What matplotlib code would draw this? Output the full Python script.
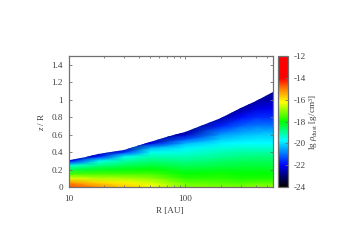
import numpy as np
import matplotlib
matplotlib.use("Agg")
import matplotlib.pyplot as plt
from matplotlib.colors import LinearSegmentedColormap
from matplotlib.patches import Polygon
from matplotlib.ticker import FixedLocator, FixedFormatter, NullFormatter

plt.rcParams['font.family'] = ['Liberation Serif', 'DejaVu Serif']
plt.rcParams['mathtext.fontset'] = 'custom'
plt.rcParams['mathtext.rm'] = 'Liberation Serif'
plt.rcParams['mathtext.it'] = 'Liberation Serif:italic'
plt.rcParams['axes.unicode_minus'] = False

R_au = [10.3, 18, 30, 50, 100, 200, 300, 400, 560]
z_over_r = [0, .05, .1, .15, .2, .25, .3, .35, .4, .45, .5, .55, .6, .7, .8, .9, 1.0, 1.1]
R_10 = [-14.6, -15.2, -16.4, -17.5, -18.5, -19.5, -22.0, -23.0, -23.0, -23.0, -23.0, -23.0, -23.0, -23.0, -23.0, -23.0, -23.0, -23.0]
R_18 = [-15.1, -15.8, -16.7, -17.5, -18.2, -18.9, -19.6, -21.8, -22.8, -23.0, -23.0, -23.0, -23.0, -23.0, -23.0, -23.0, -23.0, -23.0]
R_30 = [-15.7, -16.1, -16.8, -17.5, -18.1, -18.6, -19.1, -19.6, -21.6, -22.8, -23.0, -23.0, -23.0, -23.0, -23.0, -23.0, -23.0, -23.0]
R_50 = [-16.2, -16.5, -17.0, -17.5, -18.0, -18.4, -18.8, -19.2, -19.6, -20.4, -22.2, -22.8, -23.0, -23.0, -23.0, -23.0, -23.0, -23.0]
R_100 = [-17.0, -17.3, -17.7, -18.0, -18.3, -18.6, -18.9, -19.2, -19.5, -19.8, -20.3, -21.3, -22.4, -23.0, -23.0, -23.0, -23.0, -23.0]
R_200 = [-17.1, -17.4, -17.7, -17.9, -18.2, -18.5, -18.7, -19.0, -19.2, -19.5, -19.8, -20.2, -20.6, -21.7, -22.7, -23.0, -23.0, -23.0]
R_300 = [-17.1, -17.5, -17.8, -18.0, -18.2, -18.4, -18.6, -18.9, -19.1, -19.4, -19.7, -20.0, -20.3, -21.1, -21.9, -22.7, -23.0, -23.0]
R_400 = [-17.0, -17.4, -17.8, -18.0, -18.2, -18.4, -18.6, -18.8, -19.1, -19.4, -19.7, -19.9, -20.2, -20.9, -21.6, -22.2, -22.7, -23.0]
R_560 = [-16.9, -17.4, -17.8, -18.0, -18.2, -18.4, -18.6, -18.8, -19.1, -19.4, -19.7, -19.9, -20.1, -20.9, -21.6, -22.1, -22.5, -22.8]
surface_R = [10.3, 14, 18, 30, 50, 74, 100, 200, 300, 400, 560]
surface_z = [0.31, 0.345, 0.372, 0.423, 0.515, 0.58, 0.633, 0.785, 0.90, 0.985, 1.083]

cmap_levels = [-24, -23, -22, -19.7, -18, -16.2, -15, -14, -12]
cmap_colors = ['#000000', '#000070', '#0000ff', '#00ffff', '#00ff00', '#ffff00', '#ff8000', '#ff0000', '#ff0000']
x_major = [10, 100]
x_minor = [20, 30, 40, 50, 60, 70, 80, 90, 200, 300, 400, 500]
y_ticks = [0, 0.2, 0.4, 0.6, 0.8, 1, 1.2, 1.4]
y_labels = ['0', '0.2', '0.4', '0.6', '0.8', '1', '1.2', '1.4']
c_ticks = [-24, -22, -20, -18, -16, -14, -12]

W, H = 351, 248
GRAY = '#707070'
TXT = '#404040'
FS = 6.6

fig = plt.figure(figsize=(W / 100, H / 100), dpi=100)
ax = fig.add_axes([68.5 / W, 1 - 187 / H, 204.2 / W, 130.7 / H])
cax = fig.add_axes([277.7 / W, 1 - 187 / H, 10.6 / W, 130.7 / H])

span = cmap_levels[-1] - cmap_levels[0]
cmap = LinearSegmentedColormap.from_list(
    'disk', [((v - cmap_levels[0]) / span, c) for v, c in zip(cmap_levels, cmap_colors)], N=512)

field = np.array([R_10, R_18, R_30, R_50, R_100, R_200, R_300, R_400, R_560]).T
ax.set_xscale('log')
ax.set_xlim(10, 558)
ax.set_ylim(0, 1.496)
mesh = ax.pcolormesh(R_au, z_over_r, field, cmap=cmap, vmin=-24, vmax=-12,
                     shading='gouraud', rasterized=True)
outline = list(zip(surface_R, surface_z)) + [(surface_R[-1], 0), (surface_R[0], 0)]
clip = Polygon(outline, closed=True, transform=ax.transData, fc='none', ec='none')
ax.add_patch(clip)
mesh.set_clip_path(clip)

ax.xaxis.set_major_locator(FixedLocator(x_major))
ax.xaxis.set_major_formatter(FixedFormatter(['10', '100']))
ax.xaxis.set_minor_locator(FixedLocator(x_minor))
ax.xaxis.set_minor_formatter(NullFormatter())
ax.set_yticks(y_ticks)
ax.set_yticklabels(y_labels)
ax.tick_params(axis='both', which='major', direction='in', top=True, right=True,
               length=2.4, width=0.6, color=GRAY, labelsize=FS, labelcolor=TXT)
ax.tick_params(axis='x', which='major', pad=5.5)
ax.tick_params(axis='y', which='major', pad=4)
ax.tick_params(axis='x', which='minor', direction='in', top=True,
               length=1.3, width=0.6, color=GRAY)
for s in ax.spines.values():
    s.set_color(GRAY)
    s.set_linewidth(0.9)

cb = fig.colorbar(mesh, cax=cax)
cb.set_ticks(c_ticks)
cb.set_ticklabels([str(t) for t in c_ticks])
cb.ax.tick_params(direction='in', length=2.4, width=0.6, color=GRAY, labelsize=FS,
                  labelcolor=TXT, pad=4)
cb.outline.set_edgecolor(GRAY)
cb.outline.set_linewidth(0.9)

fig.text(170 / W, 1 - 211 / H, 'R [AU]', ha='center', va='center', fontsize=FS, color=TXT)
fig.text(41 / W, 1 - 122 / H, r'$\mathit{z}$ / R', rotation=90, ha='center', va='center',
         fontsize=FS, color=TXT)
fig.text(313 / W, 1 - 122 / H, r'lg $\rho_{\mathrm{dust}}$ [g/cm$^3$]', rotation=90,
         ha='center', va='center', fontsize=FS, color=TXT)

fig.savefig('out.png', dpi=100)
